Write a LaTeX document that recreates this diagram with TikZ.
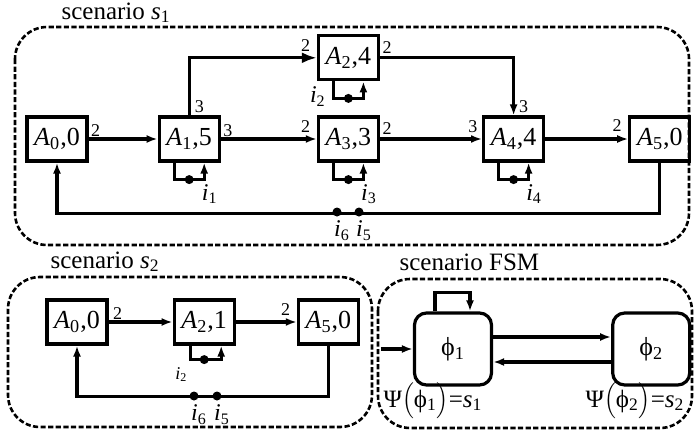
\documentclass[tikz,border=0pt]{standalone}
\usepackage{fontspec}
\setmainfont{Liberation Serif}
\usetikzlibrary{arrows.meta,positioning}

\tikzset{
  blk/.style={draw, line width=1.6pt, minimum width=30pt, minimum height=22pt,
    inner sep=0pt, font=\fontsize{13}{15}\selectfont},
  st/.style={draw, line width=1.6pt, rounded corners=6pt, minimum width=38.5pt,
    minimum height=36pt, font=\fontsize{13}{15}\selectfont},
  frame/.style={draw, line width=1.3pt, dash pattern=on 2.6pt off 1.2pt, rounded corners=16pt},
  ttl/.style={font=\fontsize{12.5}{14}\selectfont, inner sep=0pt},
  port/.style={font=\fontsize{9}{10}\selectfont, inner sep=0.5pt},
  lbl/.style={font=\fontsize{12}{13}\selectfont, inner sep=0.5pt},
  dot/.style={circle, fill, inner sep=0pt, minimum size=4.5pt}
}

\begin{document}
\begin{tikzpicture}[x=0.5pt, y=-0.5pt, line width=1.6pt, >={Latex[length=5.5pt,width=4pt]}]
\useasboundingbox (0,0) rectangle (694,439);

% scenario s1
\draw[frame] (15,27) rectangle (689,245);
\node[ttl, anchor=base west] (t1) at (60,19) {scenario \textit{s}\textsubscript{1}};

\node[blk] (a0) at (57,139) {\textit{A}\textsubscript{0},0};
\node[blk] (a1) [right=34.5pt of a0] {\textit{A}\textsubscript{1},5};
\node[blk] (a3) [right=48pt of a1] {\textit{A}\textsubscript{3},3};
\node[blk] (a2) [above=17pt of a3] {\textit{A}\textsubscript{2},4};
\node[blk] (a4) [right=51pt of a3] {\textit{A}\textsubscript{4},4};
\node[blk] (a5) [right=41.5pt of a4] {\textit{A}\textsubscript{5},0};

\node[port, anchor=south west] (p0r) at (a0.east) {2};
\node[port, anchor=south west] (p1r) at (a1.east) {3};
\node[port, anchor=south west] (p1t) at ([xshift=1.5pt]a1.north) {3};
\node[port, anchor=south east] (p2l) at ([shift={(-2pt,2pt)}]a2.west) {2};
\node[port, anchor=south west] (p2r) at ([yshift=1pt]a2.east) {2};
\node[port, anchor=south east] (p3l) at ([shift={(-2pt,2pt)}]a3.west) {2};
\node[port, anchor=south west] (p3r) at ([yshift=1pt]a3.east) {2};
\node[port, anchor=south east] (p4l) at ([shift={(-1pt,2pt)}]a4.west) {3};
\node[port, anchor=south west] (p4t) at ([xshift=1.5pt]a4.north) {3};
\node[port, anchor=south east] (p5l) at ([shift={(-2pt,2.5pt)}]a5.west) {2};

\draw[->] (a0) -- (a1);
\draw[-{Latex[length=7.5pt,width=5.5pt]}] (a1.north) |- (a2.west);
\draw[->] (a1) -- (a3);
\draw[->] (a2.east) -| (a4.north);
\draw[->] (a3) -- (a4);
\draw[->] (a4) -- (a5);
\draw[->] (a5.south) -- ++(0,-25.5pt) -| (a0.south);

\foreach \n/\d in {a1/d1, a2/d2, a3/d3, a4/d4} {
  \node[dot] (\d) at ([yshift=-8.5pt]\n.south) {};
  \draw[->] ([xshift=-7.5pt]\n.south) |- (\d.center) -| ([xshift=7.5pt]\n.south);
}
\node[lbl, anchor=north west] (l1) at ([shift={(2pt,-1pt)}]d1.east) {\textit{i}\textsubscript{1}};
\node[lbl, anchor=east] (l2) at ([shift={(-7pt,1pt)}]d2.west) {\textit{i}\textsubscript{2}};
\node[lbl, anchor=north west] (l3) at ([shift={(2pt,-1pt)}]d3.east) {\textit{i}\textsubscript{3}};
\node[lbl, anchor=north west] (l4) at ([shift={(2pt,-1pt)}]d4.east) {\textit{i}\textsubscript{4}};

\node[dot, label={[lbl, xshift=2.5pt]below:\textit{i}\textsubscript{6}}] (d6) at (337,212) {};
\node[dot, label={[lbl, xshift=2.5pt]below:\textit{i}\textsubscript{5}}] (d5) at (359,212) {};

% scenario s2
\draw[frame] (8,277) rectangle (372,427);
\node[ttl, anchor=base west] (t2) at (49,268) {scenario \textit{s}\textsubscript{2}};

\node[blk] (b0) at (77,322) {\textit{A}\textsubscript{0},0};
\node[blk] (b2) [right=32pt of b0] {\textit{A}\textsubscript{2},1};
\node[blk] (b5) [right=30.5pt of b2] {\textit{A}\textsubscript{5},0};

\node[port, anchor=south west] (q0r) at ([xshift=1pt]b0.east) {2};
\node[port, anchor=south east] (q5l) at ([shift={(-2pt,2pt)}]b5.west) {2};

\draw[->] (b0) -- (b2);
\draw[->] (b2) -- (b5);
\draw[->] (b5.south) -- ++(0,-25.5pt) -| (b0.south);

\node[dot] (e2) at ([yshift=-7pt]b2.south) {};
\draw[->] ([xshift=-7pt]b2.south) |- (e2.center) -| ([xshift=8.5pt]b2.south);
\node[port, anchor=north east] (m2) at ([shift={(-5pt,-0.5pt)}]e2.south west) {\textit{i}\textsubscript{2}};

\node[dot, label={[lbl, xshift=2.5pt]below:\textit{i}\textsubscript{6}}] (e6) at (194,396) {};
\node[dot, label={[lbl, xshift=2.5pt]below:\textit{i}\textsubscript{5}}] (e5) at (217,396) {};

% scenario FSM
\draw[frame] (378,279) rectangle (692,428);
\node[ttl, anchor=base west] (t3) at (398,270) {scenario FSM};

\node[st] (f1) at (453,349) {ϕ\textsubscript{1}};
\node[st] (f2) [right=59pt of f1] {ϕ\textsubscript{2}};
\coordinate[left=16pt of f1.west] (f0);

\draw[->] (f0) -- (f1);
\draw[->] ([yshift=6pt]f1.east) -- ([yshift=6pt]f2.west);
\draw[->] ([yshift=-6.5pt]f2.west) -- ([yshift=-6.5pt]f1.east);
\draw[->] ([xshift=-9pt]f1.north) -- ++(0,9.5pt) -| ([xshift=8.5pt]f1.north);

\node[ttl] (g1) at (433,401) {Ψ$\Bigl($ϕ\textsubscript{1}$\Bigr)$=\textit{s}\textsubscript{1}};
\node[ttl] (g2) at (635,401) {Ψ$\Bigl($ϕ\textsubscript{2}$\Bigr)$=\textit{s}\textsubscript{2}};

\end{tikzpicture}
\end{document}
